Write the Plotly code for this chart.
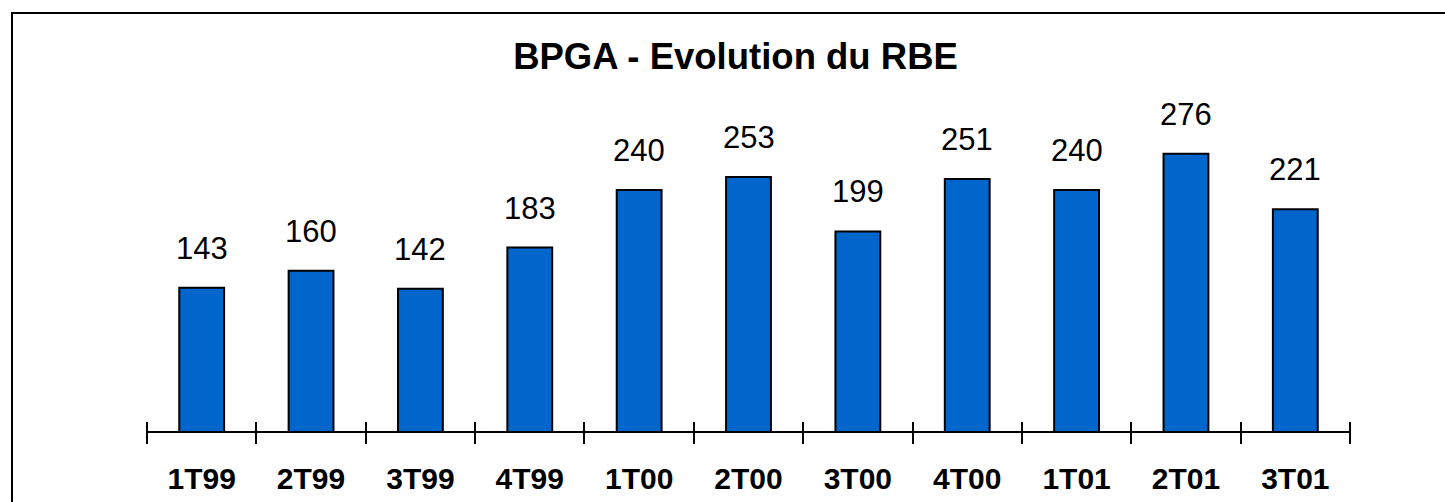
import plotly.graph_objects as go

categories = ["1T99", "2T99", "3T99", "4T99", "1T00", "2T00", "3T00", "4T00", "1T01", "2T01", "3T01"]
values = [143, 160, 142, 183, 240, 253, 199, 251, 240, 276, 221]
title_text = "BPGA - Evolution du RBE"

W, H = 1445, 502
FONT = "Liberation Sans, Arial, sans-serif"

# pixel layout (page coordinates; body margin removed by post_script)
AX_L, AX_R = 147, 1350
ZERO_Y = 432
PLOT_TOP = 100
PLOT_BOT = ZERO_Y + 21
SCALE = 1.008  # px per unit
TICK_HALF = 11

ML, MR, MT, MB = AX_L, W - AX_R, PLOT_TOP, H - PLOT_BOT
pw = W - ML - MR
ph = H - MT - MB
y_top = (ZERO_Y - PLOT_TOP) / SCALE
y_bot = -(PLOT_BOT - ZERO_Y) / SCALE

def px_x(p):
    return (p - ML) / pw
def px_y(p):
    return (H - MB - p) / ph

fig = go.Figure()
fig.add_trace(go.Bar(
    x=categories, y=values,
    marker=dict(color="#0066CC", line=dict(color="black", width=2)),
    hoverinfo="skip",
))

for c, v in zip(categories, values):
    fig.add_annotation(
        x=c, y=v, text=str(v), showarrow=False, yanchor="bottom",
        yshift=20, font=dict(family=FONT, size=31, color="black"),
    )

fig.add_shape(type="rect", xref="paper", yref="paper",
              x0=px_x(12), x1=px_x(W + 40), y0=px_y(H + 40), y1=px_y(13),
              line=dict(color="black", width=2), fillcolor="rgba(0,0,0,0)", layer="above")

fig.update_layout(
    width=W, height=H,
    margin=dict(l=ML, r=MR, t=MT, b=MB, autoexpand=False),
    paper_bgcolor="white", plot_bgcolor="white",
    showlegend=False,
    bargap=0.59,
    title=dict(text="<b>" + title_text + "</b>", x=735.5 / W, xanchor="center",
               xref="container", yref="container", y=1 - 56 / H, yanchor="middle",
               font=dict(family=FONT, size=36.5, color="black")),
    xaxis=dict(
        type="category", range=[-0.5, len(categories) - 0.5],
        anchor="free", position=px_y(ZERO_Y - TICK_HALF),
        showline=False, automargin=False,
        ticks="outside", ticklen=2 * TICK_HALF, tickwidth=2, tickcolor="black",
        tickson="boundaries", showgrid=False, zeroline=False,
        tickfont=dict(family=FONT, size=30, color="black"),
        tickprefix="<b>", ticksuffix="</b>",
        ticklabelstandoff=37,
    ),
    yaxis=dict(range=[y_bot, y_top], showticklabels=False, ticks="", showline=False,
               showgrid=False, zeroline=True, zerolinecolor="black", zerolinewidth=2,
               automargin=False),
)

fig.write_html(
    "out.html",
    config={"displayModeBar": False},
    post_script="document.body.style.margin='0';document.body.style.overflow='hidden';",
)
